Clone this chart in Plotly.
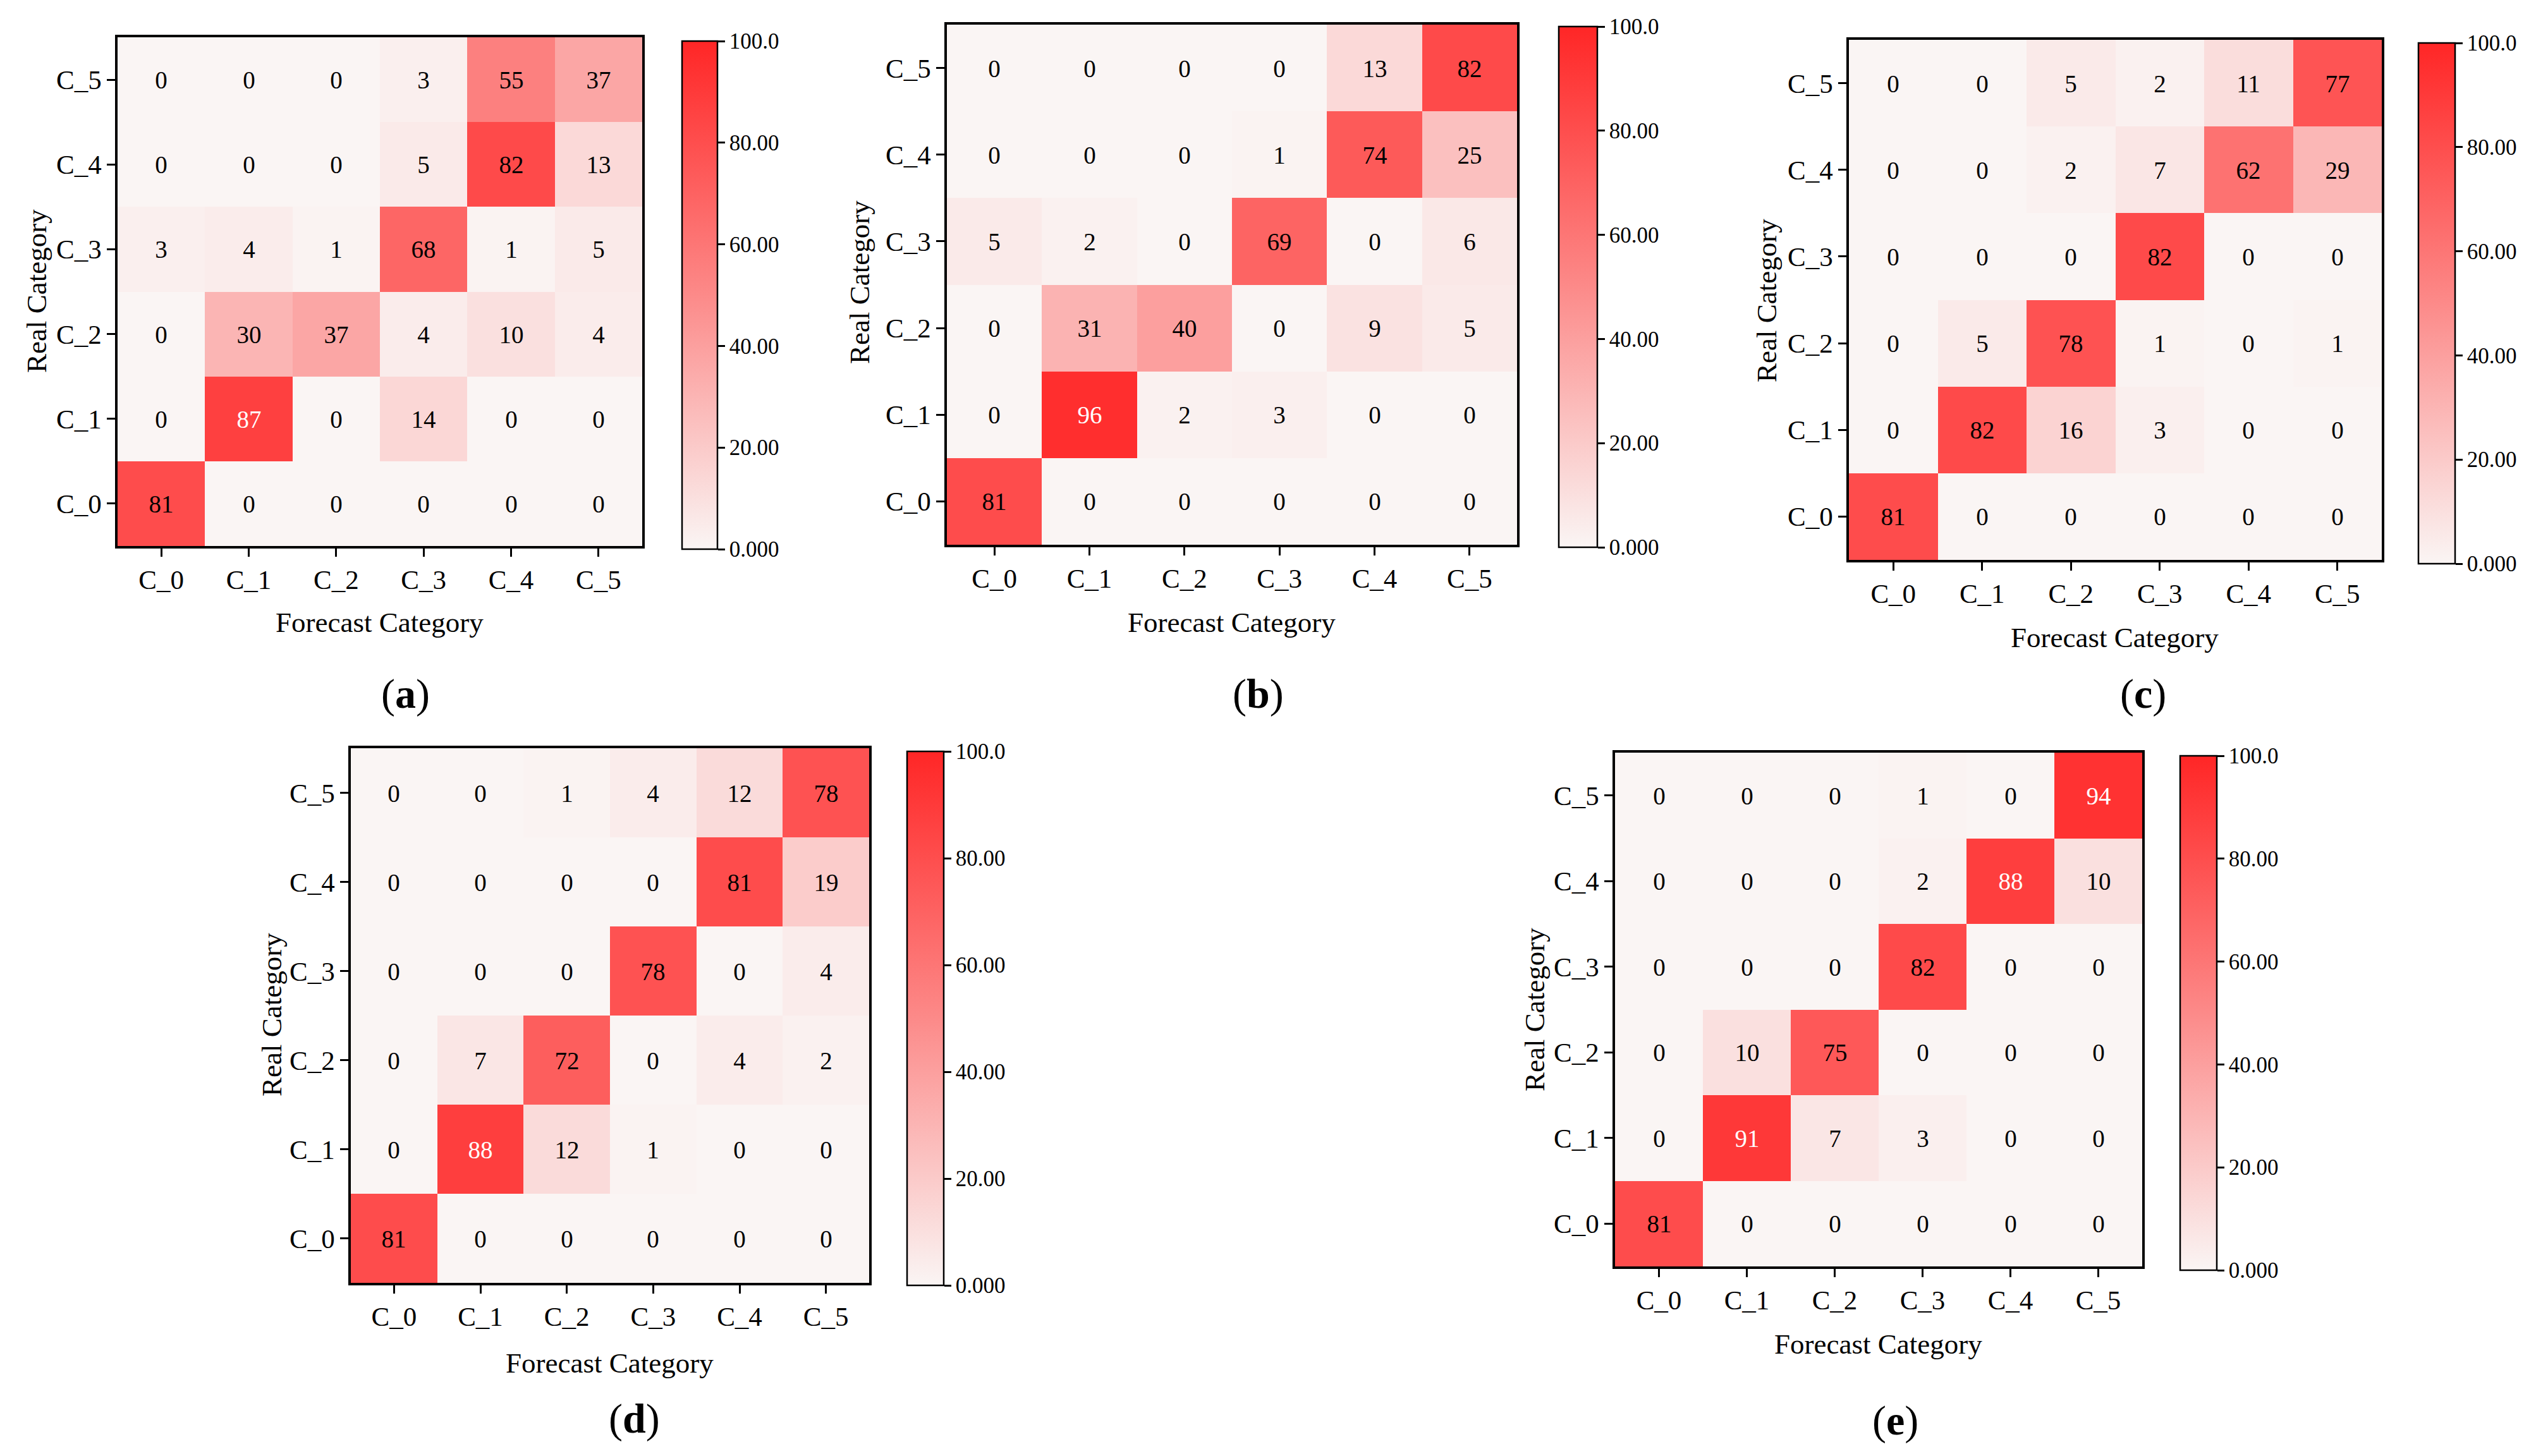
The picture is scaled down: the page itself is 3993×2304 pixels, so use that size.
import plotly.graph_objects as go

# Canvas size
W, H = 3993, 2304

# Data
categories = ["C_0", "C_1", "C_2", "C_3", "C_4", "C_5"]
cbar_vals = [0, 20, 40, 60, 80, 100]
cbar_text = ["0.000", "20.00", "40.00", "60.00", "80.00", "100.0"]
panel_names = ["a", "b", "c", "d", "e"]

# rows are Real Category from C_0 (bottom) to C_5 (top), columns Forecast Category C_0..C_5
cm_a = [
    [81, 0, 0, 0, 0, 0],
    [0, 87, 0, 14, 0, 0],
    [0, 30, 37, 4, 10, 4],
    [3, 4, 1, 68, 1, 5],
    [0, 0, 0, 5, 82, 13],
    [0, 0, 0, 3, 55, 37],
]
cm_b = [
    [81, 0, 0, 0, 0, 0],
    [0, 96, 2, 3, 0, 0],
    [0, 31, 40, 0, 9, 5],
    [5, 2, 0, 69, 0, 6],
    [0, 0, 0, 1, 74, 25],
    [0, 0, 0, 0, 13, 82],
]
cm_c = [
    [81, 0, 0, 0, 0, 0],
    [0, 82, 16, 3, 0, 0],
    [0, 5, 78, 1, 0, 1],
    [0, 0, 0, 82, 0, 0],
    [0, 0, 2, 7, 62, 29],
    [0, 0, 5, 2, 11, 77],
]
cm_d = [
    [81, 0, 0, 0, 0, 0],
    [0, 88, 12, 1, 0, 0],
    [0, 7, 72, 0, 4, 2],
    [0, 0, 0, 78, 0, 4],
    [0, 0, 0, 0, 81, 19],
    [0, 0, 1, 4, 12, 78],
]
cm_e = [
    [81, 0, 0, 0, 0, 0],
    [0, 91, 7, 3, 0, 0],
    [0, 10, 75, 0, 0, 0],
    [0, 0, 0, 82, 0, 0],
    [0, 0, 0, 2, 88, 10],
    [0, 0, 0, 1, 0, 94],
]
matrices = [cm_a, cm_b, cm_c, cm_d, cm_e]

# pixel boxes: heatmap (l, r, t, b), colorbar (l, r, t, b)
heat_box = [
    (178, 1008, 51, 856),
    (1490, 2392, 31, 854),
    (2917, 3760, 55, 878),
    (547, 1367, 1176, 2022),
    (2547, 3381, 1183, 1996),
]
cbar_box = [
    (1071, 1127, 57, 861),
    (2458, 2519, 34, 858),
    (3818, 3876, 60, 884),
    (1427, 1485, 1181, 2026),
    (3441, 3499, 1188, 2002),
]
# label centres (x, y) in pixels
xtitle_pos = [(592, 977), (1940, 977), (3337, 1001), (956, 2149), (2963, 2119)]
ytitle_pos = [(50, 453), (1352, 439), (2787, 468), (422, 1598), (2420, 1590)]
panel_pos = [(633, 1090), (1982, 1090), (3382, 1090), (995, 2237), (2990, 2240)]

FONT = "Liberation Serif"
colorscale = [[0.0, "#FAF5F4"], [0.5, "#FC8A89"], [1.0, "#FF2626"]]


def fx(px):
    return px / W


def fy(py):
    return 1 - py / H


def cell_text(m):
    # big values get white text like the original
    out = []
    for row in m:
        r = []
        for v in row:
            if v >= 85:
                r.append(f"<span style='color:white'>{v}</span>")
            else:
                r.append(str(v))
        out.append(r)
    return out


fig = go.Figure()
annotations = []
layout_axes = {}

for i, m in enumerate(matrices):
    n = i + 1
    xa = "x" if n == 1 else f"x{n}"
    ya = "y" if n == 1 else f"y{n}"
    hl, hr, ht, hb = heat_box[i]
    cl, cr, ct, cb = cbar_box[i]

    fig.add_trace(go.Heatmap(
        z=m,
        x=categories,
        y=categories,
        text=cell_text(m),
        texttemplate="%{text}",
        textfont=dict(family=FONT, size=39, color="black"),
        colorscale=colorscale,
        zmin=0,
        zmax=100,
        xaxis=xa,
        yaxis=ya,
        colorbar=dict(
            x=fx(cl), xanchor="left", xpad=0,
            y=fy(ct), yanchor="top", ypad=0,
            len=(cb - ct) / H, lenmode="fraction",
            thickness=cr - cl, thicknessmode="pixels",
            outlinewidth=2.5, outlinecolor="black",
            ticks="outside", ticklen=11, tickwidth=2.5, tickcolor="black",
            tickvals=cbar_vals, ticktext=cbar_text,
            tickfont=dict(family=FONT, size=35, color="black"),
        ),
    ))

    axis_style = dict(
        showline=True, linecolor="black", linewidth=3.5, mirror=True,
        ticks="outside", ticklen=13, tickwidth=3, tickcolor="black",
        tickfont=dict(family=FONT, size=43, color="black"),
        showgrid=False, zeroline=False,
    )
    layout_axes["xaxis" if n == 1 else f"xaxis{n}"] = dict(
        domain=[fx(hl), fx(hr)], anchor=ya, **axis_style)
    layout_axes["yaxis" if n == 1 else f"yaxis{n}"] = dict(
        domain=[fy(hb), fy(ht)], anchor=xa, **axis_style)

    # axis titles and panel label
    tx, ty = xtitle_pos[i]
    annotations.append(dict(
        x=fx(tx), y=fy(ty), xref="paper", yref="paper", text="Forecast Category",
        showarrow=False, xanchor="center", yanchor="middle",
        font=dict(family=FONT, size=45, color="black")))
    rx, ry = ytitle_pos[i]
    annotations.append(dict(
        x=fx(rx), y=fy(ry), xref="paper", yref="paper", text="Real Category",
        showarrow=False, xanchor="center", yanchor="middle", textangle=-90,
        font=dict(family=FONT, size=45, color="black")))
    px_, py_ = panel_pos[i]
    annotations.append(dict(
        x=fx(px_), y=fy(py_), xref="paper", yref="paper",
        text=f"(<b>{panel_names[i]}</b>)",
        showarrow=False, xanchor="center", yanchor="middle",
        font=dict(family=FONT, size=66, color="black")))

fig.update_layout(
    width=W,
    height=H,
    margin=dict(l=0, r=0, t=0, b=0),
    paper_bgcolor="white",
    plot_bgcolor="white",
    showlegend=False,
    annotations=annotations,
    **layout_axes,
)

fig.write_html("out.html")
